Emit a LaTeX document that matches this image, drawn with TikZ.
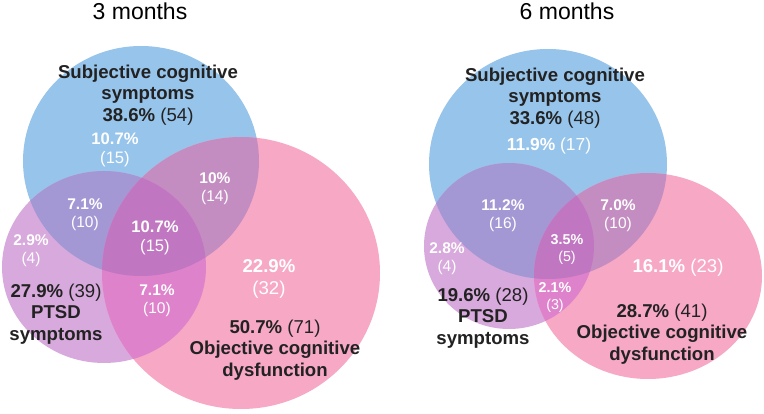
\documentclass[tikz,border=0pt]{standalone}
\usepackage{fontspec}
\setmainfont{Liberation Sans}
\definecolor{cB}{HTML}{97C4EA}
\definecolor{cP}{HTML}{D8A9DC}
\definecolor{cK}{HTML}{F6A8C5}
\definecolor{cBP}{HTML}{A498D4}
\definecolor{cBK}{HTML}{C38DC1}
\definecolor{cPK}{HTML}{DD82CB}
\definecolor{cAll}{HTML}{C076C1}
\definecolor{txtdark}{HTML}{222222}
\tikzset{
  dark/.style={text=txtdark, align=center, inner sep=0pt, font=\fontsize{18.6}{21.5}\selectfont},
  wht/.style={text=white, align=center, inner sep=0pt, font=\fontsize{15.5}{18}\selectfont},
  whtm/.style={text=white, align=center, inner sep=0pt, font=\fontsize{16.6}{19.5}\selectfont},
  whtl/.style={text=white, align=center, inner sep=0pt, font=\fontsize{18.6}{22}\selectfont},
  whts/.style={text=white, align=center, inner sep=0pt, font=\fontsize{14.3}{17}\selectfont},
  ttl/.style={text=black, inner sep=0pt, font=\fontsize{23}{26}\selectfont},
}
\begin{document}
\begin{tikzpicture}[x=1pt,y=-1pt]
\useasboundingbox (0,0) rectangle (764,414);
\fill[white] (0,0) rectangle (764,414);
% ---------- left panel: 3 months ----------
\def\LB{(141,161) ellipse [x radius=118pt, y radius=115pt]}
\def\LP{(104,267) ellipse [x radius=102pt, y radius=96pt]}
\def\LK{(241,273) ellipse [x radius=139pt, y radius=136pt]}
\fill[cB] \LB;
\fill[cP] \LP;
\fill[cK] \LK;
\begin{scope}\clip \LB; \fill[cBP] \LP; \end{scope}
\begin{scope}\clip \LB; \fill[cBK] \LK; \end{scope}
\begin{scope}\clip \LP; \fill[cPK] \LK; \end{scope}
\begin{scope}\clip \LB; \clip \LP; \fill[cAll] \LK; \end{scope}
% ---------- right panel: 6 months ----------
\def\RB{(548,164) ellipse [x radius=119pt, y radius=115pt]}
\def\RP{(509,246) ellipse [x radius=85pt, y radius=83pt]}
\def\RK{(648,276) ellipse [x radius=114pt, y radius=103pt]}
\fill[cB] \RB;
\fill[cP] \RP;
\fill[cK] \RK;
\begin{scope}\clip \RB; \fill[cBP] \RP; \end{scope}
\begin{scope}\clip \RB; \fill[cBK] \RK; \end{scope}
\begin{scope}\clip \RP; \fill[cPK] \RK; \end{scope}
\begin{scope}\clip \RB; \clip \RP; \fill[cAll] \RK; \end{scope}
% ---------- titles ----------
\node[ttl] (t1) at (140,11) {3 months};
\node[ttl] (t2) at (567,11) {6 months};
% ---------- left labels ----------
\node[dark] (s1) at (148,95) {{\bfseries Subjective cognitive}\\{\bfseries symptoms}\\{\bfseries 38.6\%} (54)};
\node[whtm] (a1) at (115,150) {{\bfseries 10.7\%}\\(15)};
\node[wht] (a2) at (85,215) {{\bfseries 7.1\%}\\(10)};
\node[wht] (a3) at (215,189) {{\bfseries 10\%}\\(14)};
\node[whtm] (a4) at (155,238) {{\bfseries 10.7\%}\\(15)};
\node[wht] (a5) at (31,251) {{\bfseries 2.9\%}\\(4)};
\node[dark] (p1) at (56,314) {{\bfseries 27.9\%} (39)\\{\bfseries PTSD}\\{\bfseries symptoms}};
\node[wht] (a6) at (157,301) {{\bfseries 7.1\%}\\(10)};
\node[whtl] (a7) at (269,279) {{\bfseries 22.9\%}\\(32)};
\node[dark] (k1) at (275,350) {{\bfseries 50.7\%} (71)\\{\bfseries Objective cognitive}\\{\bfseries dysfunction}};
% ---------- right labels ----------
\node[dark] (s2) at (555,98) {{\bfseries Subjective cognitive}\\{\bfseries symptoms}\\{\bfseries 33.6\%} (48)};
\node[text=white, inner sep=0pt, font=\fontsize{17.4}{20}\selectfont] (b1) at (549,146) {{\bfseries 11.9\%} (17)};
\node[wht] (b2) at (503,216) {{\bfseries 11.2\%}\\(16)};
\node[wht] (b3) at (618,216) {{\bfseries 7.0\%}\\(10)};
\node[whts] (b4) at (567,249) {{\bfseries 3.5\%}\\(5)};
\node[wht] (b5) at (447,259) {{\bfseries 2.8\%}\\(4)};
\node[text=white, inner sep=0pt, font=\fontsize{18.6}{21}\selectfont] (b6) at (678,268) {{\bfseries 16.1\%} (23)};
\node[dark] (p2) at (483,318) {{\bfseries 19.6\%} (28)\\{\bfseries PTSD}\\{\bfseries symptoms}};
\node[whts] (b7) at (555,297) {{\bfseries 2.1\%}\\(3)};
\node[dark] (k2) at (662,334) {{\bfseries 28.7\%} (41)\\{\bfseries Objective cognitive}\\{\bfseries dysfunction}};
\end{tikzpicture}
\end{document}
